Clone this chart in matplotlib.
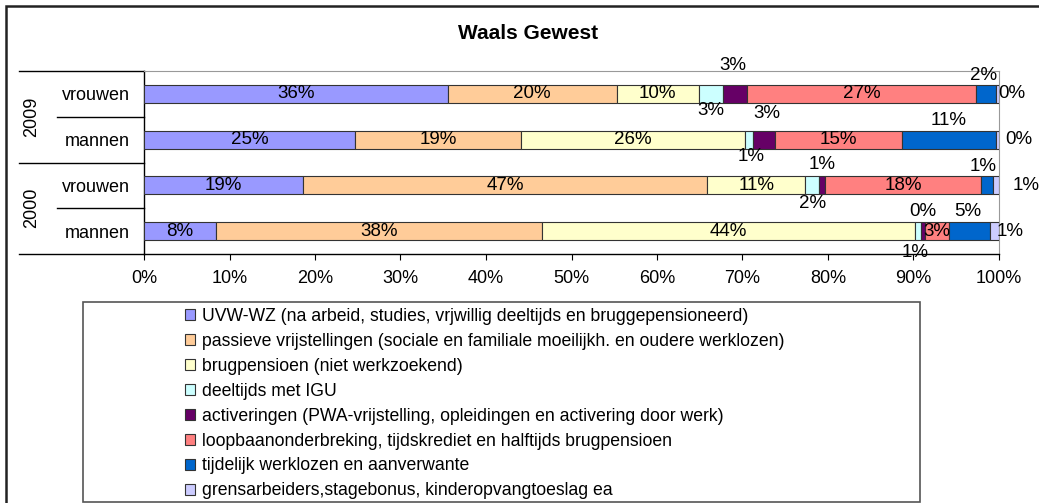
import matplotlib
matplotlib.use("Agg")
import matplotlib.pyplot as plt
from matplotlib.patches import Patch, Rectangle
import matplotlib.transforms as mtransforms

plt.rcParams['font.family'] = ['Liberation Sans', 'DejaVu Sans']

# rows from bottom to top
row_labels = ['mannen', 'vrouwen', 'mannen', 'vrouwen']
years = ['2000', '2009']

series = [
    'UVW-WZ (na arbeid, studies, vrjwillig deeltijds en bruggepensioneerd)',
    'passieve vrijstellingen (sociale en familiale moeilijkh. en oudere werklozen)',
    'brugpensioen (niet werkzoekend)',
    'deeltijds met IGU',
    'activeringen (PWA-vrijstelling, opleidingen en activering door werk)',
    'loopbaanonderbreking, tijdskrediet en halftijds brugpensioen',
    'tijdelijk werklozen en aanverwante',
    'grensarbeiders,stagebonus, kinderopvangtoeslag ea',
]
colors = ['#9999FF', '#FFCC99', '#FFFFCC', '#CCFFFF', '#660066', '#FF8080', '#0066CC', '#CCCCFF']

# percentages: 2000 mannen, 2000 vrouwen, 2009 mannen, 2009 vrouwen
uvw = [8.4, 18.6, 24.7, 35.5]
passief = [38.1, 47.3, 19.4, 19.8]
brug = [43.7, 11.4, 26.2, 9.6]
deeltijds = [0.7, 1.7, 0.9, 2.8]
activ = [0.4, 0.7, 2.6, 2.8]
loopbaan = [2.9, 18.2, 14.9, 26.8]
tijdelijk = [4.7, 1.4, 10.9, 2.4]
grens = [1.1, 0.7, 0.4, 0.3]
values = [uvw, passief, brug, deeltijds, activ, loopbaan, tijdelijk, grens]

# label shifts for the small segments (pixels, +y = down)
shifts = {
    (3, 3): (0, 17), (3, 4): (-2, -28), (3, 6): (-3, -18), (3, 7): (14, 0),
    (2, 3): (2, 17), (2, 4): (3, -26), (2, 6): (0, -19), (2, 7): (22, 0),
    (1, 3): (0, 18), (1, 4): (0, -21), (1, 6): (-4, -19), (1, 7): (30, 0),
    (0, 3): (-3, 21), (0, 4): (0, -20), (0, 6): (-2, -20), (0, 7): (16, 0),
}

W, H = 1039, 503
fig = plt.figure(figsize=(W / 100, H / 100), dpi=100)
ax = fig.add_axes([144 / W, 1 - 254 / H, 855 / W, 183 / H])

ypos = list(range(len(row_labels)))
left = [0.0] * len(row_labels)
for s, (vals, col) in enumerate(zip(values, colors)):
    ax.barh(ypos, vals, left=left, height=0.39, color=col,
            edgecolor='#333333', linewidth=0.8, zorder=3)
    for r, v in enumerate(vals):
        cx = left[r] + v / 2
        dx, dy = shifts.get((r, s), (0, 0))
        ax.annotate(f'{v:.0f}%', (cx, r), xytext=(dx * 0.72, -dy * 0.72),
                    textcoords='offset points', ha='center', va='center',
                    fontsize=13.5, color='black', annotation_clip=False, zorder=5)
        left[r] += v

ax.set_xlim(0, 100)
ax.set_ylim(-0.5, 3.5)
ax.set_xticks(range(0, 101, 10))
ax.set_xticklabels([f'{t}%' for t in range(0, 101, 10)])
ax.tick_params(axis='x', direction='out', length=4.5, width=0.8, pad=7, labelsize=13)
ax.set_yticks(ypos)
ax.set_yticklabels(row_labels)
ax.tick_params(axis='y', length=0, pad=10, labelsize=13)

for sp in ['top', 'right']:
    ax.spines[sp].set_color('#999999')
for sp in ['left', 'bottom']:
    ax.spines[sp].set_color('black')
    ax.spines[sp].set_linewidth(1)

# category separators on the left
trans = mtransforms.blended_transform_factory(ax.transAxes, ax.transData)
for yv, x0 in [(3.5, -0.146), (2.5, -0.102), (1.5, -0.146), (0.5, -0.102), (-0.5, -0.146)]:
    ax.plot([x0, 0], [yv, yv], color='black', lw=1, transform=trans, clip_on=False)
for yr, yc in zip(years, [0.5, 2.5]):
    ax.text(-0.131, yc, yr, transform=trans, rotation=90, ha='center', va='center', fontsize=13)

fig.text(528 / W, 1 - 33 / H, 'Waals Gewest', ha='center', va='center',
         fontsize=15, fontweight='bold')

# outer chart frame and legend frame
fig.patches.append(Rectangle((6 / W, -0.1), 1.1, 1.1 - 6 / H, transform=fig.transFigure,
                             fill=False, edgecolor='#222222', lw=1.8))
fig.patches.append(Rectangle((83 / W, 1 - 502 / H), 837 / W, 200 / H, transform=fig.transFigure,
                             fill=False, edgecolor='#555555', lw=1.2))

handles = [Patch(facecolor=c, edgecolor='#333333', linewidth=0.8) for c in colors]
fig.legend(handles, series, loc='upper left', bbox_to_anchor=(176 / W, 1 - 299 / H),
           frameon=False, fontsize=12.7, handlelength=0.6, handleheight=0.6,
           handletextpad=0.4, labelspacing=0.45, borderpad=0)

fig.savefig('out.png', dpi=100)
